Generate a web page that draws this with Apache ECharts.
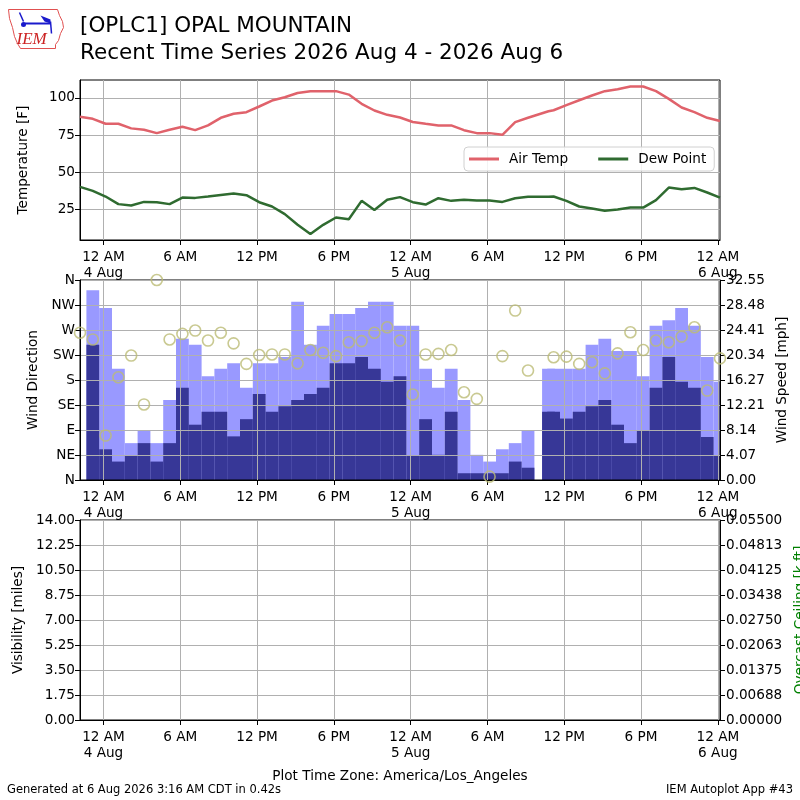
<!DOCTYPE html>
<html>
<head>
<meta charset="utf-8">
<script src="https://cdn.jsdelivr.net/npm/echarts@6/dist/echarts.min.js"></script>
<style>
  html, body { margin: 0; padding: 0; background: #fff; }
  #chart { width: 800px; height: 800px; }
</style>
</head>
<body>
<div id="chart"></div>
<script>
// observation times, local station time
const obsTimes = [
  '2026-08-03T22:10', '2026-08-03T23:10',
  '2026-08-04T00:10', '2026-08-04T01:10', '2026-08-04T02:10', '2026-08-04T03:10',
  '2026-08-04T04:10', '2026-08-04T05:10', '2026-08-04T06:10', '2026-08-04T07:10',
  '2026-08-04T08:10', '2026-08-04T09:10', '2026-08-04T10:10', '2026-08-04T11:10',
  '2026-08-04T12:10', '2026-08-04T13:10', '2026-08-04T14:10', '2026-08-04T15:10',
  '2026-08-04T16:10', '2026-08-04T17:10', '2026-08-04T18:10', '2026-08-04T19:10',
  '2026-08-04T20:10', '2026-08-04T21:10', '2026-08-04T22:10', '2026-08-04T23:10',
  '2026-08-05T00:10', '2026-08-05T01:10', '2026-08-05T02:10', '2026-08-05T03:10',
  '2026-08-05T04:10', '2026-08-05T05:10', '2026-08-05T06:10', '2026-08-05T07:10',
  '2026-08-05T08:10', '2026-08-05T09:10', '2026-08-05T10:46', '2026-08-05T11:10',
  '2026-08-05T12:10', '2026-08-05T13:10', '2026-08-05T14:10', '2026-08-05T15:10',
  '2026-08-05T16:10', '2026-08-05T17:10', '2026-08-05T18:10', '2026-08-05T19:10',
  '2026-08-05T20:10', '2026-08-05T21:10', '2026-08-05T22:10', '2026-08-05T23:10',
  '2026-08-06T00:10'
];
const airTemp = [
  87.3, 85.9,
  82.6, 82.6, 79.5, 78.6, 76.3, 78.6, 80.6, 78.3, 81.5, 86.6, 89.3, 90.4,
  94.2, 98.2, 100.4, 103.3, 104.5, 104.5, 104.5, 102.2, 96.0, 91.5, 88.6, 86.8,
  83.8, 82.6, 81.5, 81.5, 78.3, 76.3, 76.3, 75.2, 83.7, 86.6, 91.0, 91.7,
  95.1, 98.4, 101.6, 104.5, 105.8, 107.6, 107.6, 104.5, 99.3, 93.5, 90.4, 86.6,
  84.4
];
const dewPoint = [
  40.2, 37.5,
  33.7, 28.6, 27.7, 30.1, 29.9, 28.6, 33.0, 32.8, 33.7, 34.8, 35.7, 34.6,
  29.9, 27.0, 21.9, 14.7, 8.5, 14.7, 19.6, 18.5, 30.8, 24.6, 31.5, 33.3,
  29.9, 28.3, 32.6, 30.8, 31.5, 31.0, 31.0, 30.1, 32.6, 33.5, 33.6, 33.7,
  30.8, 27.0, 25.7, 24.1, 25.0, 26.3, 26.3, 31.3, 39.7, 38.6, 39.5, 36.4,
  33.0
];
const windDir = [
  265, 253,
  80, 185, 224, 136, 360, 253, 263, 269, 251, 265, 246, 209,
  225, 226, 226, 210, 234, 229, 223, 248, 250, 265, 275, 251,
  154, 226, 227, 234, 158, 146, 6, 223, 305, 197, null, 221,
  222, 209, 212, 192, 228, 266, 234, 251, 248, 258, 275, 161,
  219
];
const windSpeed = [
  0, 22.0,
  5.0, 3.0, 4.0, 6.0, 3.0, 6.0, 15.0, 9.0, 11.1, 11.1, 7.1, 9.9,
  14.0, 11.1, 12.0, 13.0, 14.0, 15.0, 19.0, 19.0, 20.0, 18.1, 16.0, 16.9,
  4.0, 9.9, 4.1, 11.1, 1.1, 1.1, 1.1, 1.1, 3.0, 2.0, 11.1, 11.1,
  10.0, 11.1, 12.0, 13.0, 9.0, 6.0, 8.1, 15.0, 20.0, 16.0, 15.0, 7.0,
  4.0
];
const windGust = [
  0, 30.9,
  28.0, 18.1, 6.0, 8.0, 6.0, 13.0, 23.0, 22.0, 16.9, 18.1, 19.0, 15.0,
  19.0, 19.0, 20.0, 29.0, 22.0, 25.1, 27.0, 27.0, 28.0, 29.0, 29.0, 25.1,
  25.1, 18.1, 15.0, 18.1, 13.0, 4.1, 3.0, 5.0, 6.0, 8.0, 18.1, 18.1,
  18.1, 18.1, 22.0, 23.0, 21.0, 21.0, 16.9, 25.1, 26.0, 28.0, 25.1, 20.0,
  16.0
];
const timeTicks = [
  '2026-08-04T00:00', '2026-08-04T06:00', '2026-08-04T12:00', '2026-08-04T18:00',
  '2026-08-05T00:00', '2026-08-05T06:00', '2026-08-05T12:00', '2026-08-05T18:00',
  '2026-08-06T00:00'
];
const tempTicks = [25, 50, 75, 100];
const dirLabels = ['N', 'NE', 'E', 'SE', 'S', 'SW', 'W', 'NW', 'N'];
const monthNames = ['Jan', 'Feb', 'Mar', 'Apr', 'May', 'Jun', 'Jul', 'Aug', 'Sep', 'Oct', 'Nov', 'Dec'];

const FONT = 'DejaVu Sans';
const FS = 13.6;
const HOUR = 3600 * 1000;
const toMs = s => new Date(s).getTime();
const tMs = obsTimes.map(toMs);
const tickMs = timeTicks.map(toMs);
const tMin = tMs[0], tMax = tMs[tMs.length - 1];

const pairs = arr => tMs.map((t, i) => [t, arr[i]]);

function fmtTime(v) {
  const d = new Date(v);
  const h = d.getHours();
  const s = (h % 12 === 0 ? 12 : h % 12) + ' ' + (h < 12 ? 'AM' : 'PM');
  return h === 0 ? s + '\n' + d.getDate() + ' ' + monthNames[d.getMonth()] : s;
}

const gridLine = { show: true, lineStyle: { color: '#b0b0b0', width: 1 } };
const black = { color: '#000', width: 1 };
const labelStyle = { color: '#000', fontSize: FS, fontFamily: FONT };

function xAxisFor(gridIndex) {
  return {
    type: 'value', gridIndex, min: tMin, max: tMax,
    axisLine: { onZero: false, lineStyle: black },
    axisTick: { customValues: tickMs, length: 5, lineStyle: black },
    axisLabel: Object.assign({ customValues: tickMs, formatter: fmtTime, margin: 9, lineHeight: 16 }, labelStyle),
    splitLine: gridLine
  };
}

function yAxisBase(gridIndex, pos) {
  return {
    type: 'value', gridIndex, position: pos,
    axisLine: { show: true, lineStyle: black },
    axisTick: { show: true, length: 5, lineStyle: black },
    axisLabel: Object.assign({ margin: 5 }, labelStyle),
    nameLocation: 'middle',
    nameTextStyle: { color: '#000', fontSize: FS, fontFamily: FONT }
  };
}

function gridAt(top, height) {
  return {
    left: 80, right: 80, top, height, outerBoundsMode: 'none',
    show: true, borderColor: '#000', borderWidth: 1, backgroundColor: 'transparent'
  };
}

// bar drawn from t-30min to t+30min
function barRender(params, api) {
  const t = api.value(0), v = api.value(1);
  if (v == null || isNaN(v)) return;
  const p0 = api.coord([t - HOUR / 2, v]);
  const p1 = api.coord([t + HOUR / 2, 0]);
  const cs = params.coordSys;
  const rect = echarts.graphic.clipRectByRect(
    { x: p0[0], y: p0[1], width: p1[0] - p0[0], height: p1[1] - p0[1] },
    { x: cs.x, y: cs.y, width: cs.width, height: cs.height }
  );
  return rect && { type: 'rect', shape: rect, style: { fill: api.visual('color') } };
}

const chart = echarts.init(document.getElementById('chart'));

const plainText = (size) => ({ fontSize: size, fontWeight: 'normal', color: '#000', fontFamily: FONT });

const option = {
  animation: false,
  textStyle: { fontFamily: FONT },
  title: [
    {
      text: '[OPLC1] OPAL MOUNTAIN\nRecent Time Series 2026 Aug 4 - 2026 Aug 6',
      left: 80, top: 13, padding: 0,
      textStyle: Object.assign(plainText(21.5), { lineHeight: 27 })
    },
    { text: 'Plot Time Zone: America/Los_Angeles', left: 'center', top: 769, padding: 0, textStyle: plainText(FS) },
    { text: 'Generated at 6 Aug 2026 3:16 AM CDT in 0.42s', left: 7, top: 784, padding: 0, textStyle: plainText(11.5) },
    { text: 'IEM Autoplot App #43', right: 7, top: 784, padding: 0, textStyle: plainText(11.5) }
  ],
  graphic: [
    {
      type: 'group', left: 6, top: 7,
      children: [
        { type: 'polyline',
          shape: { points: [[2, 2], [51, 2], [53, 8], [56, 14], [57, 20], [54, 26], [52, 33], [49, 37], [49, 41], [14, 41], [11, 36], [8, 29], [6, 20], [3, 11], [2, 2]] },
          style: { stroke: '#e05050', fill: 'none', lineWidth: 1 } },
        { type: 'line', shape: { x1: 18, y1: 16, x2: 44, y2: 16 }, style: { stroke: '#1a1acc', lineWidth: 2 } },
        { type: 'line', shape: { x1: 13, y1: 5, x2: 17, y2: 14 }, style: { stroke: '#1a1acc', lineWidth: 1.5 } },
        { type: 'polygon', shape: { points: [[34, 8], [44, 12], [44, 16], [38, 14]] }, style: { fill: '#1a1acc' } },
        { type: 'line', shape: { x1: 44, y1: 14, x2: 45, y2: 26 }, style: { stroke: '#1a1acc', lineWidth: 1.5 } },
        { type: 'circle', shape: { cx: 17, cy: 17, r: 2.5 }, style: { fill: '#1a1acc' } },
        { type: 'text', style: { x: 10, y: 24, text: 'IEM', fill: '#cc2222', font: 'italic 17px "Liberation Serif"' } }
      ]
    }
  ],
  legend: {
    data: ['Air Temp', 'Dew Point'],
    left: 464, top: 147,
    icon: 'rect', itemWidth: 30, itemHeight: 3, itemGap: 30,
    padding: [5, 8, 5, 5],
    backgroundColor: 'rgba(255,255,255,0.85)',
    borderColor: '#d0d0d0', borderWidth: 1, borderRadius: 4,
    textStyle: { fontSize: FS, color: '#000', fontFamily: FONT, padding: [0, 0, 0, 5] }
  },
  grid: [gridAt(80, 160), gridAt(280, 200), gridAt(520, 200)],
  xAxis: [xAxisFor(0), xAxisFor(1), xAxisFor(2)],
  yAxis: [
    Object.assign(yAxisBase(0, 'left'), {
      min: 4.5, max: 112, name: 'Temperature [F]', nameGap: 50,
      axisTick: { show: true, length: 5, lineStyle: black, customValues: tempTicks },
      axisLabel: Object.assign({ margin: 5, customValues: tempTicks }, labelStyle),
      splitLine: gridLine
    }),
    Object.assign(yAxisBase(1, 'left'), {
      min: 0, max: 360, interval: 45, name: 'Wind Direction', nameGap: 40,
      axisLabel: Object.assign({ margin: 5, formatter: v => dirLabels[Math.round(v / 45)] }, labelStyle),
      splitLine: gridLine
    }),
    Object.assign(yAxisBase(1, 'right'), {
      min: 0, max: 32.55, interval: 32.55 / 8, name: 'Wind Speed [mph]', nameGap: 54,
      axisLabel: Object.assign({ margin: 6, formatter: v => v.toFixed(2) }, labelStyle),
      splitLine: { show: false }
    }),
    Object.assign(yAxisBase(2, 'left'), {
      min: 0, max: 14, interval: 1.75, name: 'Visibility [miles]', nameGap: 55,
      axisLabel: Object.assign({ margin: 5, formatter: v => v.toFixed(2) }, labelStyle),
      splitLine: gridLine
    }),
    Object.assign(yAxisBase(2, 'right'), {
      min: 0, max: 0.055, interval: 0.055 / 8, name: 'Overcast Ceiling [k ft]', nameGap: 73,
      nameTextStyle: { color: '#008000', fontSize: FS, fontFamily: FONT },
      axisLabel: Object.assign({ margin: 6, formatter: v => (Math.round(v * 1e5 + 1e-6) / 1e5).toFixed(5) }, labelStyle),
      splitLine: { show: false }
    })
  ],
  series: [
    {
      name: 'Air Temp', type: 'line', xAxisIndex: 0, yAxisIndex: 0,
      data: pairs(airTemp), symbol: 'none', color: '#e0626b',
      lineStyle: { width: 2.5, color: '#e0626b' }
    },
    {
      name: 'Dew Point', type: 'line', xAxisIndex: 0, yAxisIndex: 0,
      data: pairs(dewPoint), symbol: 'none', color: '#2f6b30',
      lineStyle: { width: 2.5, color: '#2f6b30' }
    },
    {
      name: 'Gust', type: 'custom', xAxisIndex: 1, yAxisIndex: 2, z: -1,
      renderItem: barRender, encode: { x: 0, y: 1 },
      itemStyle: { color: '#9999ff' }, data: pairs(windGust)
    },
    {
      name: 'Speed', type: 'custom', xAxisIndex: 1, yAxisIndex: 2, z: -1,
      renderItem: barRender, encode: { x: 0, y: 1 },
      itemStyle: { color: '#373797' }, data: pairs(windSpeed)
    },
    {
      name: 'Direction', type: 'scatter', xAxisIndex: 1, yAxisIndex: 1,
      data: pairs(windDir).filter(p => p[1] != null),
      symbol: 'circle', symbolSize: 11,
      itemStyle: { color: 'rgba(0,0,0,0)', borderColor: '#bcbc76', borderWidth: 1.6 }
    }
  ]
};

chart.setOption(option);
</script>
</body>
</html>
